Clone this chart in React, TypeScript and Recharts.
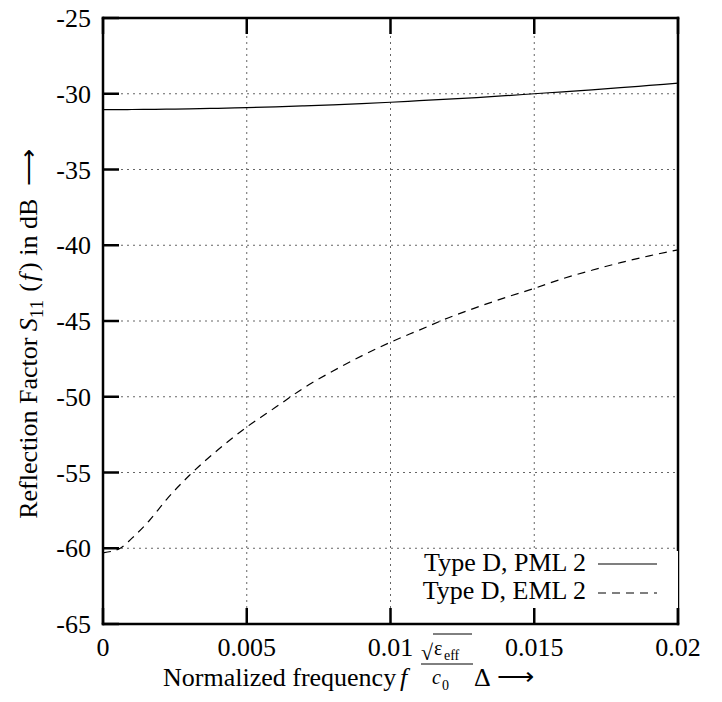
import React from 'react';
import { LineChart, Line, XAxis, YAxis, CartesianGrid, Legend } from 'recharts';

const frequencies = [0, 0.0006, 0.001, 0.0016, 0.0022, 0.003, 0.004, 0.005, 0.006, 0.007, 0.008, 0.009, 0.01, 0.011, 0.012, 0.013, 0.014, 0.015, 0.016, 0.017, 0.018, 0.019, 0.02];
const pml2Values = [-31.05, -31.05, -31.04, -31.03, -31.02, -31.0, -30.96, -30.91, -30.86, -30.8, -30.73, -30.65, -30.56, -30.46, -30.36, -30.25, -30.13, -30.0, -29.87, -29.74, -29.6, -29.45, -29.3];
const eml2Values = [-60.3, -60.0, -59.35, -58.2, -56.8, -55.2, -53.5, -52.0, -50.7, -49.4, -48.3, -47.3, -46.4, -45.6, -44.8, -44.1, -43.45, -42.85, -42.2, -41.65, -41.15, -40.7, -40.3];
const seriesNames = ['Type D, PML 2', 'Type D, EML 2'];
const seriesDash = ['', '8 6'];

const xTicks = [0, 0.005, 0.01, 0.015, 0.02];
const xTickLabels = ['0', '0.005', '0.01', '0.015', '0.02'];
const yTicks = [-65, -60, -55, -50, -45, -40, -35, -30, -25];
const yTickLabels = ['-65', '-60', '-55', '-50', '-45', '-40', '-35', '-30', '-25'];

const data = frequencies.map((f, i) => ({ f, pml: pml2Values[i], eml: eml2Values[i] }));

const FONT = "'Liberation Serif', serif";
const TICK_LEN = 16;
const tickLineStyle = { stroke: '#000', strokeWidth: 2.5 };
const axisLineStyle = { stroke: '#000', strokeWidth: 2.5, strokeLinecap: 'square' as const };

const BottomTick = (props: any) => {
  const { x, y, payload } = props;
  const idx = xTicks.indexOf(payload.value);
  return (
    <text x={x} y={y + 32} textAnchor="middle" fontFamily={FONT} fontSize={26} fill="#000">
      {idx >= 0 ? xTickLabels[idx] : String(payload.value)}
    </text>
  );
};

const LeftTick = (props: any) => {
  const { x, y, payload } = props;
  const idx = yTicks.indexOf(payload.value);
  return (
    <text x={x - 12} y={y + 9} textAnchor="end" fontFamily={FONT} fontSize={26} fill="#000">
      {idx >= 0 ? yTickLabels[idx] : String(payload.value)}
    </text>
  );
};

const EmptyTick = () => <g />;

const XAxisLabel = (props: any) => {
  const vb = props.viewBox || { x: 103, y: 624 };
  const ox = (vb.x ?? 103) - 103;
  const oy = (vb.y ?? 624) - 624;
  const X = (v: number) => v + ox;
  const Y = (v: number) => v + oy;
  return (
    <g fontFamily={FONT} fill="#000">
      <text x={X(163)} y={Y(686)} fontSize={26}>Normalized frequency</text>
      <text x={X(400)} y={Y(686)} fontSize={26} fontStyle="italic">f</text>
      <text x={X(421)} y={Y(660)} fontSize={22}>√</text>
      <line x1={X(433)} y1={Y(634)} x2={X(472)} y2={Y(634)} stroke="#000" strokeWidth={1} />
      <text x={X(434)} y={Y(655)} fontSize={20}>ε</text>
      <text x={X(444)} y={Y(660)} fontSize={14}>eff</text>
      <line x1={X(421)} y1={Y(664)} x2={X(473)} y2={Y(664)} stroke="#000" strokeWidth={1} />
      <text x={X(432)} y={Y(684)} fontSize={20} fontStyle="italic">c</text>
      <text x={X(442)} y={Y(690)} fontSize={14}>0</text>
      <text x={X(474)} y={Y(686)} fontSize={26}>Δ</text>
      <text x={X(497)} y={Y(685)} fontSize={26}>⟶</text>
    </g>
  );
};

const YAxisLabel = () => (
  <text
    transform="rotate(-90 37 334)"
    x={37}
    y={334}
    textAnchor="middle"
    fontFamily={FONT}
    fontSize={26}
    fill="#000"
  >
    {'Reflection Factor '}
    <tspan fontStyle="italic">S</tspan>
    <tspan fontSize={19} dy={6}>11</tspan>
    <tspan dy={-6} dx={8}>{'('}</tspan>
    <tspan fontStyle="italic" dx={2}>f</tspan>
    <tspan dx={3}>{')'}</tspan>
    <tspan dx={0}>{' in dB '}</tspan>
    <tspan dx={6}>{'⟶'}</tspan>
  </text>
);

const LegendContent = () => (
  <svg width={260} height={68} style={{ display: 'block', overflow: 'visible' }}>
    <rect x={0} y={11} width={260} height={57} fill="#fff" />
    {seriesNames.map((name, i) => (
      <g key={name}>
        <text x={168} y={31 + i * 28} textAnchor="end" fontFamily={FONT} fontSize={26} fill="#000">
          {name}
        </text>
        <line
          x1={180}
          y1={24 + i * 29}
          x2={239}
          y2={24 + i * 29}
          stroke="#000"
          strokeWidth={1.2}
          strokeDasharray={seriesDash[i] || undefined}
        />
      </g>
    ))}
  </svg>
);

export default function App() {
  return (
    <div style={{ position: 'absolute', left: 0, top: 0, width: 722, height: 702, background: '#fff' }}>
      <LineChart width={722} height={702} data={data} margin={{ top: 0, right: 0, bottom: 0, left: 0 }}>
        <CartesianGrid stroke="#666" strokeDasharray="2 4" strokeWidth={1} />
        <XAxis
          dataKey="f"
          type="number"
          domain={[0, 0.02]}
          ticks={xTicks}
          interval={0}
          height={78}
          tickSize={-TICK_LEN}
          tickMargin={TICK_LEN}
          tickLine={tickLineStyle}
          tick={<BottomTick />}
          axisLine={axisLineStyle}
          label={<XAxisLabel />}
        />
        <XAxis
          xAxisId="top"
          orientation="top"
          dataKey="f"
          type="number"
          domain={[0, 0.02]}
          ticks={xTicks}
          interval={0}
          height={18}
          tickSize={-TICK_LEN}
          tickMargin={TICK_LEN}
          tickLine={tickLineStyle}
          tick={<EmptyTick />}
          axisLine={axisLineStyle}
        />
        <YAxis
          type="number"
          domain={[-65, -25]}
          ticks={yTicks}
          interval={0}
          width={103}
          tickSize={-TICK_LEN}
          tickMargin={TICK_LEN}
          tickLine={tickLineStyle}
          tick={<LeftTick />}
          axisLine={axisLineStyle}
          label={<YAxisLabel />}
        />
        <YAxis
          yAxisId="right"
          orientation="right"
          type="number"
          domain={[-65, -25]}
          ticks={yTicks}
          interval={0}
          width={44}
          tickSize={-TICK_LEN}
          tickMargin={TICK_LEN}
          tickLine={tickLineStyle}
          tick={<EmptyTick />}
          axisLine={axisLineStyle}
        />
        <Legend
          layout="horizontal"
          verticalAlign="middle"
          align="center"
          content={<LegendContent />}
          wrapperStyle={{ position: 'absolute', left: 418, top: 540, width: 260, height: 68, margin: 0, padding: 0 }}
        />
        <Line
          dataKey="pml"
          name={seriesNames[0]}
          type="monotone"
          stroke="#000"
          strokeWidth={1.2}
          dot={false}
          activeDot={false}
          isAnimationActive={false}
        />
        <Line
          dataKey="eml"
          name={seriesNames[1]}
          type="monotone"
          stroke="#000"
          strokeWidth={1.2}
          strokeDasharray={seriesDash[1]}
          dot={false}
          activeDot={false}
          isAnimationActive={false}
        />
      </LineChart>
    </div>
  );
}
